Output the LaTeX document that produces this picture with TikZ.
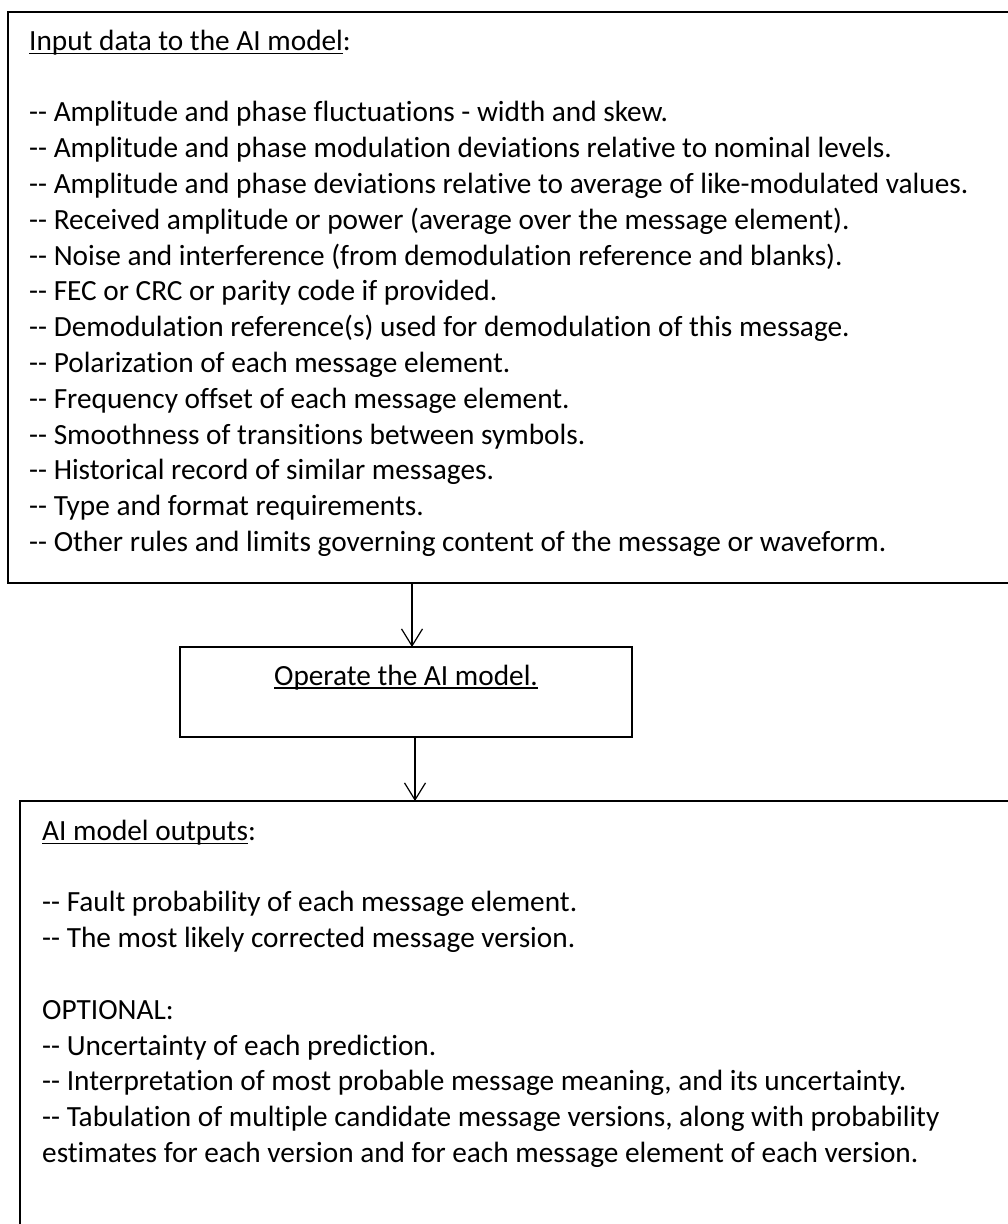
\documentclass[tikz,border=0pt]{standalone}
\usepackage{fontspec}
\setmainfont{Carlito}[Ligatures={TeXOff,NoCommon}]
\usepackage{tikz}
\usetikzlibrary{arrows.meta}
\usetikzlibrary{positioning}
\tikzstyle{bx}=[draw, line width=2pt, rectangle, inner sep=0pt, outer sep=0pt, anchor=north west]
\tikzstyle{txt}=[inner sep=0pt, align=left, font=\fontsize{29.3}{35.8}\selectfont]
\tikzstyle{flow}=[line width=1.2pt, -{Straight Barb[length=17pt,width=21pt]}]
\newcommand{\undl}[1]{\setbox0\hbox{#1}\rlap{\rule[-3.8pt]{\wd0}{1.5pt}}\box0}

\begin{document}
\begin{tikzpicture}[x=1pt,y=-1pt]
\useasboundingbox (0,0) rectangle (1008,1224);
\clip (0,0) rectangle (1008,1224);
\node[bx, minimum width=1020pt, minimum height=571pt] (inbox) at (8,12) {};
\node[bx, minimum width=452pt, minimum height=90pt] (opbox) at (180,647) {};
\node[bx, minimum width=1000pt, minimum height=500pt] (outbox) at (20,801) {};
\node[txt, below right=13pt and 21pt of inbox.north west] (intext) {\strut\undl{Input data to the AI model}:\\[35.8pt]
-- Amplitude and phase fluctuations - width and skew.\\
-- Amplitude and phase modulation deviations relative to nominal levels.\\
-- Amplitude and phase deviations relative to average of like-modulated values.\\
-- Received amplitude or power (average over the message element).\\
-- Noise and interference (from demodulation reference and blanks).\\
-- FEC or CRC or parity code if provided.\\
-- Demodulation reference(s) used for demodulation of this message.\\
-- Polarization of each message element.\\
-- Frequency offset of each message element.\\
-- Smoothness of transitions between symbols.\\
-- Historical record of similar messages.\\
-- Type and format requirements.\\
-- Other rules and limits governing content of the message or waveform.};
\node[txt, below=38pt of opbox.north, anchor=base] (optext) {\undl{Operate the AI model.}};
\node[txt, below right=14pt and 22pt of outbox.north west] (outtext) {\strut\undl{AI model outputs}:\\[35.8pt]
-- Fault probability of each message element.\\
-- The most likely corrected message version.\\[35.8pt]
OPTIONAL:\\
-- Uncertainty of each prediction.\\
-- Interpretation of most probable message meaning, and its uncertainty.\\
-- Tabulation of multiple candidate message versions, along with probability\\
estimates for each version and for each message element of each version.};
\coordinate (a1) at ([xshift=6pt]opbox.north);
\coordinate (a2) at ([xshift=9pt]opbox.south);
\draw[flow] (inbox.south -| a1) -- (a1);
\draw[flow] (a2) -- (outbox.north -| a2);
\end{tikzpicture}
\end{document}
